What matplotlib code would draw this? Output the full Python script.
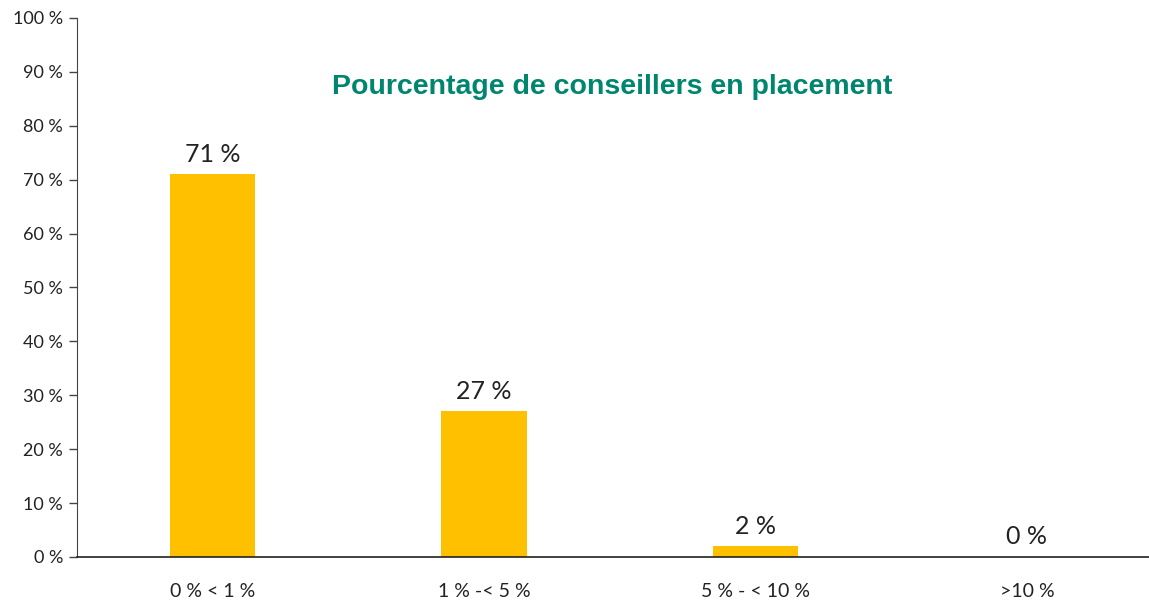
import matplotlib
matplotlib.use("Agg")
import matplotlib.pyplot as plt

categories = ["0 % < 1 %", "1 % -< 5 %", "5 % - < 10 %", ">10 %"]
values = [71, 27, 2, 0]
yticks = [0, 10, 20, 30, 40, 50, 60, 70, 80, 90, 100]
title = "Pourcentage de conseillers en placement"

plt.rcParams['font.family'] = ['Lato', 'DejaVu Sans']

fig = plt.figure(figsize=(11.49, 6.0), dpi=100)
ax = fig.add_axes([0.067, 0.0717, 0.933, 0.8983])

x = list(range(len(categories)))
ax.bar(x, values, width=0.314, color="#FFC000", zorder=2)
for xi, v in zip(x, values):
    ax.text(xi, v + 1.6, f"{v} %", ha="center", va="bottom", fontsize=18, color="#222222")

ax.set_xlim(-0.50, 3.45)
ax.set_ylim(0, 100)
ax.set_yticks(yticks)
ax.set_yticklabels([f"{t} %" for t in yticks], fontsize=13, color="#222222")
ax.set_xticks(x)
ax.set_xticklabels(categories, fontsize=14, color="#222222")
ax.tick_params(axis="x", length=0, pad=19)
ax.tick_params(axis="y", length=6, width=1, color="#444444", pad=4)
for s in ["top", "right"]:
    ax.spines[s].set_visible(False)
ax.spines["left"].set_color("#444444")
ax.spines["bottom"].set_color("#222222")
ax.spines["bottom"].set_linewidth(1.2)

fig.text(0.533, 0.855, title, ha="center", va="center", fontsize=20.5,
         fontweight="bold", color="#00866E", family=["Liberation Sans", "DejaVu Sans"])

fig.savefig("out.png", dpi=100)
